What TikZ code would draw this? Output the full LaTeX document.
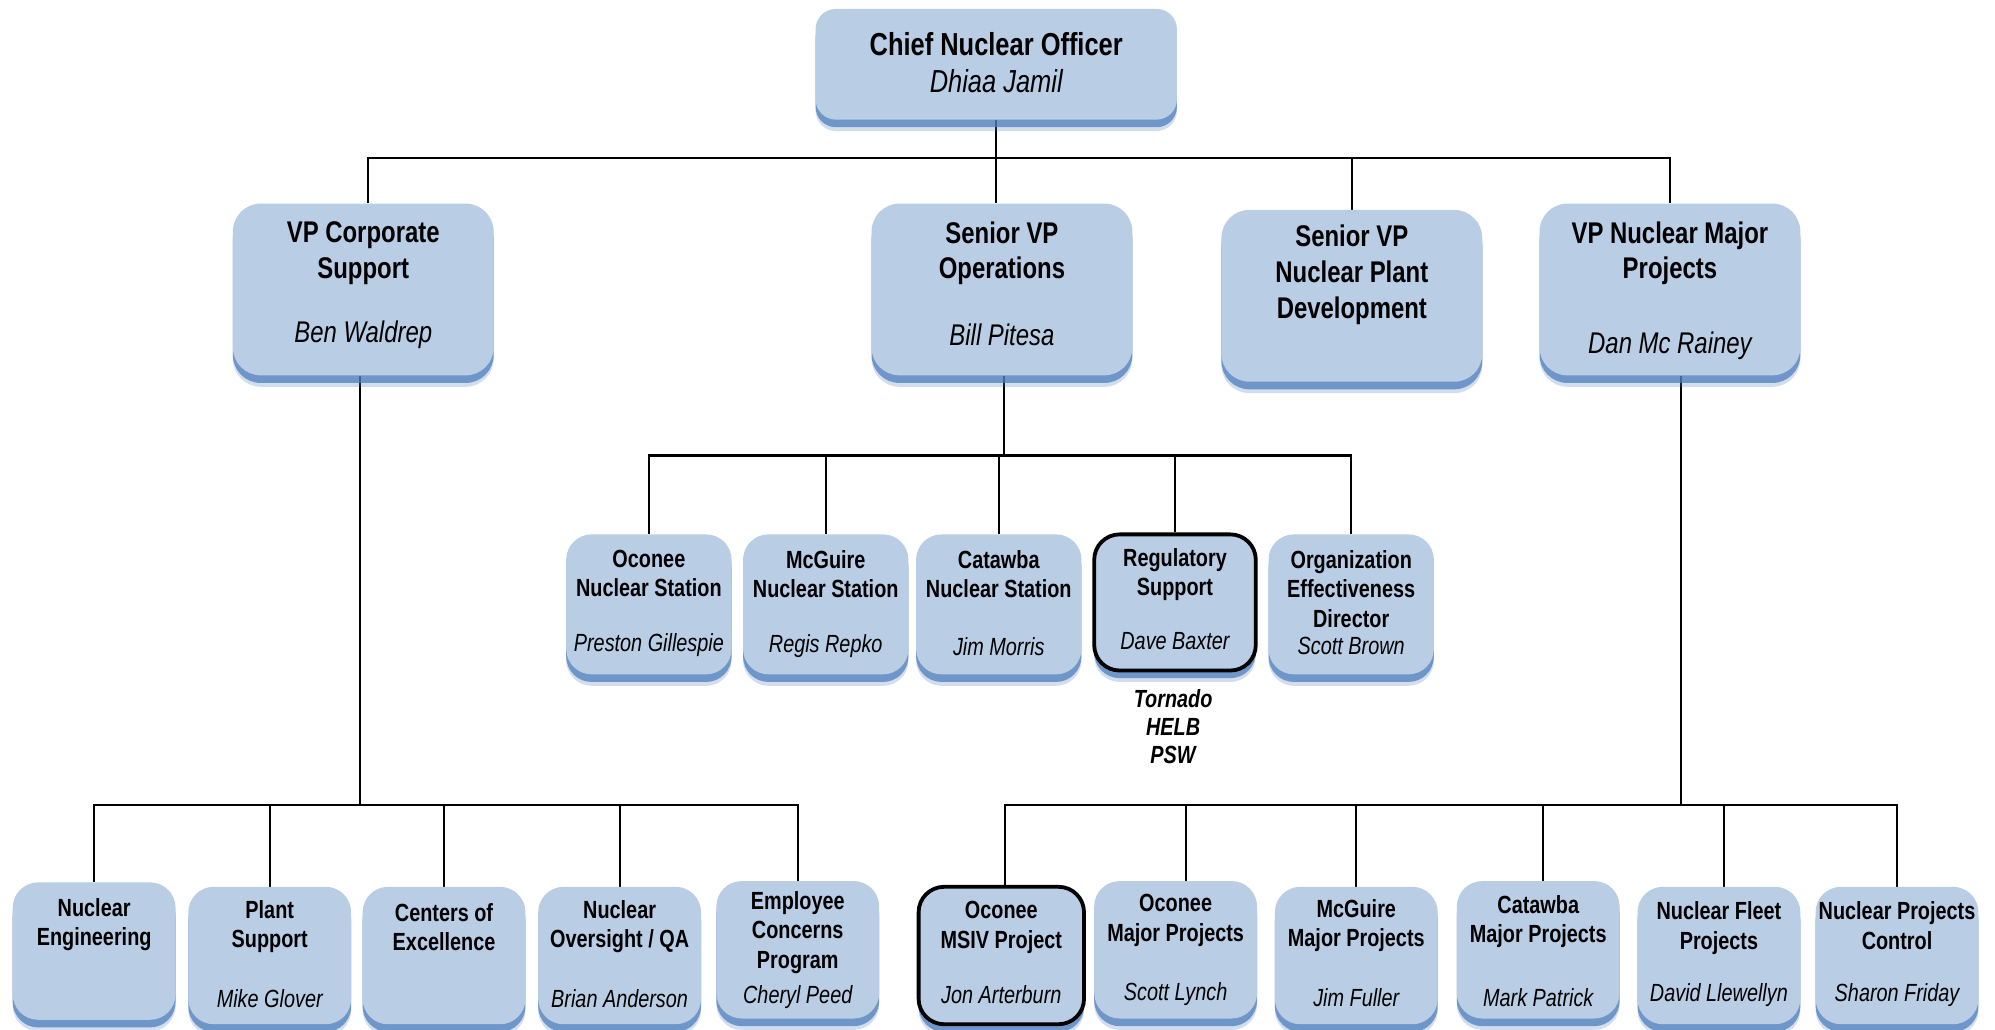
\documentclass[tikz,border=0pt]{standalone}
\usepackage{fontspec}
\setmainfont{Liberation Sans}[FakeStretch=0.8]
\usetikzlibrary{shadows,backgrounds}
\definecolor{boxblue}{HTML}{B9CDE5}
\definecolor{shadowblue}{HTML}{4F7FBD}
\begin{document}
\begin{tikzpicture}[x=1pt,y=-1pt,
  boxbase/.style={fill=boxblue, draw=none, inner sep=0pt,
    drop shadow={shadow xshift=0pt, shadow yshift=-9pt, fill=shadowblue, opacity=0.25},
    drop shadow={shadow xshift=0pt, shadow yshift=-6pt, fill=shadowblue, opacity=0.75}},
  boxtop/.style={boxbase, rounded corners=16pt},
  boxtwo/.style={boxbase, rounded corners=22pt, minimum width=205pt, minimum height=135pt},
  boxsm/.style={boxbase, rounded corners=20pt, minimum width=130pt, minimum height=110pt},
  boxlow/.style={boxbase, rounded corners=20pt, minimum width=128pt, minimum height=108pt},
  thickbox/.style={draw=black, line width=3pt},
  ttop/.style={font=\fontsize{25}{29}\selectfont\bfseries, align=center, inner sep=0pt},
  ntop/.style={font=\fontsize{25}{29}\selectfont\itshape, align=center, inner sep=0pt},
  ttwo/.style={font=\fontsize{23.5}{28}\selectfont\bfseries, align=center, inner sep=0pt},
  ntwo/.style={font=\fontsize{23.5}{28}\selectfont\itshape, align=center, inner sep=0pt},
  tsm/.style={font=\fontsize{19.5}{23}\selectfont\bfseries, align=center, inner sep=0pt},
  nsm/.style={font=\fontsize{19.5}{23}\selectfont\itshape, align=center, inner sep=0pt},
  note/.style={font=\fontsize{19.5}{22}\selectfont\bfseries\itshape, align=center, inner sep=0pt},
  conn/.style={draw=black, line width=1.6pt}
]
\useasboundingbox (0,0) rectangle (1568,809);

% Level 1
\node[boxtop, minimum width=284pt, minimum height=87pt] (cno) at (783,50.5) {};
\node[ttop] (cnot) at (783,35) {Chief Nuclear Officer};
\node[ntop] (cnon) at (783,64) {Dhiaa Jamil};

% Level 2
\node[boxtwo] (corp) at (285.5,227.5) {};
\node[ttwo] (corpt) at (285.5,199) {VP Corporate\\Support};
\node[ntwo] (corpn) at (285.5,263) {Ben Waldrep};

\node[boxtwo] (ops) at (787.5,227.5) {};
\node[ttwo] (opst) at (787.5,199) {Senior VP\\Operations};
\node[ntwo] (opsn) at (787.5,263) {Bill Pitesa};

\node[boxtwo] (npd) at (1062.5,232.5) {};
\node[ttwo] (npdt) at (1062.5,216) {Senior VP\\Nuclear Plant\\Development};

\node[boxtwo] (nmp) at (1312.5,227.5) {};
\node[ttwo] (nmpt) at (1312.5,199) {VP Nuclear Major\\Projects};
\node[ntwo] (nmpn) at (1312.5,272) {Dan Mc Rainey};

% Level 3
\node[boxsm] (oc) at (510,475) {};
\node[tsm] (oct) at (510,450.5) {Oconee\\Nuclear Station};
\node[nsm] (ocn) at (510,507) {Preston Gillespie};

\node[boxsm] (mc) at (649,475) {};
\node[tsm] (mct) at (649,451.5) {McGuire\\Nuclear Station};
\node[nsm] (mcn) at (649,508) {Regis Repko};

\node[boxsm] (cat) at (785,475) {};
\node[tsm] (catt) at (785,451.5) {Catawba\\Nuclear Station};
\node[nsm] (catn) at (785,508) {Jim Morris};

\node[boxsm, thickbox, minimum width=127pt, minimum height=107pt] (reg) at (923.5,473.5) {};
\node[tsm] (regt) at (923.5,451.5) {Regulatory\\Support};
\node[nsm] (regn) at (923.5,504) {Dave Baxter};

\node[boxsm] (org) at (1062,475) {};
\node[tsm] (orgt) at (1062,463) {Organization\\Effectiveness\\Director};
\node[nsm] (orgn) at (1062,508) {Scott Brown};

\node[note] (regnote) at (922,571) {Tornado\\HELB\\PSW};

% Level 4 left
\node[boxlow] (ne) at (74,747.5) {};
\node[tsm] (net) at (74,727) {Nuclear\\Engineering};

\node[boxlow] (ps) at (212,751) {};
\node[tsm] (pst) at (212,728.5) {Plant\\Support};
\node[nsm] (psn) at (212,785) {Mike Glover};

\node[boxlow] (coe) at (349,751) {};
\node[tsm] (coet) at (349,728.5) {Centers of\\Excellence};

\node[boxlow] (noqa) at (487,751) {};
\node[tsm] (noqat) at (487,728.5) {Nuclear\\Oversight / QA};
\node[nsm] (noqan) at (487,785) {Brian Anderson};

\node[boxlow] (ecp) at (627,746.5) {};
\node[tsm] (ecpt) at (627,733) {Employee\\Concerns\\Program};
\node[nsm] (ecpn) at (627,784) {Cheryl Peed};

% Level 4 right
\node[boxlow, thickbox, minimum width=130pt] (msiv) at (787,751) {};
\node[tsm] (msivt) at (787,729) {Oconee\\MSIV Project};
\node[nsm] (msivn) at (787,782) {Jon Arterburn};

\node[boxlow] (omp) at (924,746.5) {};
\node[tsm] (ompt) at (924,723.5) {Oconee\\Major Projects};
\node[nsm] (ompn) at (924,781) {Scott Lynch};

\node[boxlow] (mmp) at (1066,751) {};
\node[tsm] (mmpt) at (1066,727.5) {McGuire\\Major Projects};
\node[nsm] (mmpn) at (1066,784) {Jim Fuller};

\node[boxlow] (cmp) at (1209,746.5) {};
\node[tsm] (cmpt) at (1209,724.5) {Catawba\\Major Projects};
\node[nsm] (cmpn) at (1209,784) {Mark Patrick};

\node[boxlow] (nfp) at (1351,751) {};
\node[tsm] (nfpt) at (1351,729.5) {Nuclear Fleet\\Projects};
\node[nsm] (nfpn) at (1351,782) {David Llewellyn};

\node[boxlow] (npc) at (1491,751) {};
\node[tsm] (npct) at (1491,727.5) {Nuclear Projects\\Control};
\node[nsm] (npcn) at (1491,782) {Sharon Friday};

% Bus coordinates
\coordinate (b1) at (0,124);
\coordinate (b2) at (0,358);
\coordinate (b3) at (0,633);

\begin{pgfonlayer}{background}
\fill[white] (0,0) rectangle (1568,809);
% top level
\draw[conn] (cno.south) -- (cno.south |- ops.north);
\draw[conn] ([xshift=3.5pt]corp.north) |- (nmp.north |- b1) -- (nmp.north);
\draw[conn] (npd.north) -- (npd.north |- b1);
% operations
\draw[conn] ([xshift=1.5pt]ops.south) -- ([xshift=1.5pt]ops.south |- b2);
\draw[conn] (oc.north) |- (org.north |- b2) -- (org.north);
\draw[conn] (mc.north) -- (mc.north |- b2);
\draw[conn] (cat.north) -- (cat.north |- b2);
\draw[conn] (reg.north) -- (reg.north |- b2);
% corporate support
\draw[conn] ([xshift=-2.5pt]corp.south) -- ([xshift=-2.5pt]corp.south |- b3);
\draw[conn] (ne.north) |- (ecp.north |- b3) -- (ecp.north);
\draw[conn] (ps.north) -- (ps.north |- b3);
\draw[conn] (coe.north) -- (coe.north |- b3);
\draw[conn] (noqa.north) -- (noqa.north |- b3);
% major projects
\draw[conn] ([xshift=9pt]nmp.south) -- ([xshift=9pt]nmp.south |- b3);
\draw[conn] ([xshift=3pt]msiv.north) |- (npc.north |- b3) -- (npc.north);
\draw[conn] ([xshift=8pt]omp.north) -- ([xshift=8pt]omp.north |- b3);
\draw[conn] (mmp.north) -- (mmp.north |- b3);
\draw[conn] ([xshift=4pt]cmp.north) -- ([xshift=4pt]cmp.north |- b3);
\draw[conn] ([xshift=4pt]nfp.north) -- ([xshift=4pt]nfp.north |- b3);
\end{pgfonlayer}
\end{tikzpicture}
\end{document}
